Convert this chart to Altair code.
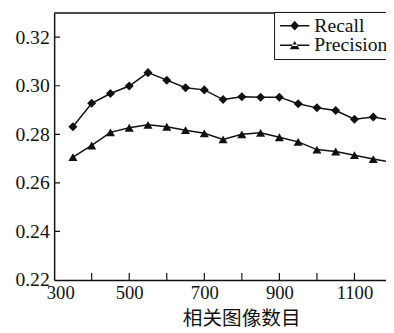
import altair as alt
import pandas as pd

counts = [350, 400, 450, 500, 550, 600, 650, 700, 750, 800, 850, 900,
          950, 1000, 1050, 1100, 1150, 1200]
recall = [0.2831, 0.2928, 0.2968, 0.2999, 0.3054, 0.3023, 0.2992, 0.2983,
          0.2943, 0.2955, 0.2953, 0.2953, 0.2926, 0.2909, 0.2898, 0.2862,
          0.2871, 0.2858]
precision = [0.2706, 0.2754, 0.2808, 0.2827, 0.2839, 0.2831, 0.2817, 0.2804,
             0.2779, 0.2800, 0.2806, 0.2788, 0.2769, 0.2737, 0.2729, 0.2714,
             0.2698, 0.2685]
series_names = ["Recall", "Precision"]
x_label_values = [300, 500, 700, 900, 1100]
x_tick_values = [400, 500, 600, 700, 800, 900, 1000, 1100]
y_label_values = [0.22, 0.24, 0.26, 0.28, 0.30, 0.32]
y_tick_values = [0.24, 0.26, 0.28, 0.30, 0.32]
x_domain = [300, 1184]
y_domain = [0.22, 0.33]
x_title = "相关图像数目"

n = len(counts)
df = pd.DataFrame({
    "count": counts * 2,
    "value": recall + precision,
    "series": [series_names[0]] * n + [series_names[1]] * n,
})
xticks_df = pd.DataFrame({"count": x_tick_values,
                          "value": [y_domain[0]] * len(x_tick_values)})
yticks_df = pd.DataFrame({"count": [x_domain[0]] * len(y_tick_values),
                          "value": y_tick_values})
top_df = pd.DataFrame({"value": [y_domain[1]]})

W, H = 338, 272
INK = "#111111"
SERIF = "Liberation Serif"

xs = alt.Scale(domain=x_domain, nice=False, zero=False)
ys = alt.Scale(domain=y_domain, nice=False, zero=False)

xa = alt.Axis(
    orient="bottom", values=x_label_values, format="d", ticks=False,
    tickSize=0, labelPadding=4, labelFont=SERIF, labelFontSize=19,
    labelColor=INK, labelFlush=1, labelFlushOffset=8, labelOverlap=False,
    domainColor=INK, domainWidth=1.5, grid=False, title=x_title,
    titleFont="Noto Sans CJK SC", titleFontSize=20,
    titleFontWeight="normal", titleColor=INK, titleX=190.5, titleY=39.5,
    titleBaseline="middle", titleAlign="center")
ya = alt.Axis(
    orient="left", values=y_label_values, format=".2f", ticks=False,
    tickSize=0, labelPadding=5, labelFont=SERIF, labelFontSize=20,
    labelColor=INK, labelFlush=False, labelOverlap=False,
    labelBaseline="middle", domainColor=INK, domainWidth=1.5,
    grid=False, title=None)

X = alt.X("count:Q", scale=xs, axis=xa)
Y = alt.Y("value:Q", scale=ys, axis=ya)

base = alt.Chart(df)

lines = base.mark_line(color=INK, strokeWidth=1.5, clip=True).encode(
    x=X, y=Y, detail="series:N",
)

points = base.mark_point(filled=True, size=85, color=INK, opacity=1,
                         clip=True).encode(
    x=X, y=Y,
    shape=alt.Shape("series:N", scale=alt.Scale(
        domain=series_names, range=["diamond", "triangle-up"]), legend=None),
)

legend_paths = [
    "M-0.89,-0.08L2.44,-0.08L2.44,0.08L-0.89,0.08Z"
    "M0.78,-0.55L1.28,0L0.78,0.55L0.28,0Z",
    "M-0.89,-0.08L2.44,-0.08L2.44,0.08L-0.89,0.08Z"
    "M0.23,0.45L1.33,0.45L0.78,-0.5Z",
]

legend_layer = base.transform_filter(alt.datum["count"] < 0).mark_point(
    filled=True, color=INK, opacity=1).encode(
    x=X, y=Y,
    shape=alt.Shape("series:N", scale=alt.Scale(
        domain=series_names, range=legend_paths), legend=alt.Legend(
        title=None, orient="none", legendX=224, legendY=-1,
        direction="vertical", symbolSize=324, symbolFillColor=INK,
        symbolStrokeWidth=0, symbolOpacity=1,
        labelFont=SERIF, labelFontSize=20, labelColor=INK, labelOffset=17,
        rowPadding=-1, padding=4, strokeColor=INK, fillColor="white",
        cornerRadius=0, labelLimit=200)),
)

x_ticks = alt.Chart(xticks_df).mark_tick(
    orient="vertical", size=14, thickness=1.2, color=INK, opacity=1,
    clip=True).encode(x=X, y=Y)

y_ticks = alt.Chart(yticks_df).mark_tick(
    orient="horizontal", size=12, thickness=1.2, color=INK, opacity=1,
    clip=True).encode(x=X, y=Y)

top_border = alt.Chart(top_df).mark_rule(color=INK, strokeWidth=1.5).encode(
    y=Y,
)

chart = alt.layer(
    lines, points, legend_layer, x_ticks, y_ticks, top_border
).resolve_scale(
    shape="independent"
).properties(
    width=W, height=H,
    autosize=alt.AutoSizeParams(type="none"),
    padding={"left": 47, "top": 2, "right": 0, "bottom": 51},
    background="white",
).configure_view(stroke=None)

chart.save("out.html", embed_options={"renderer": "svg", "actions": False})
